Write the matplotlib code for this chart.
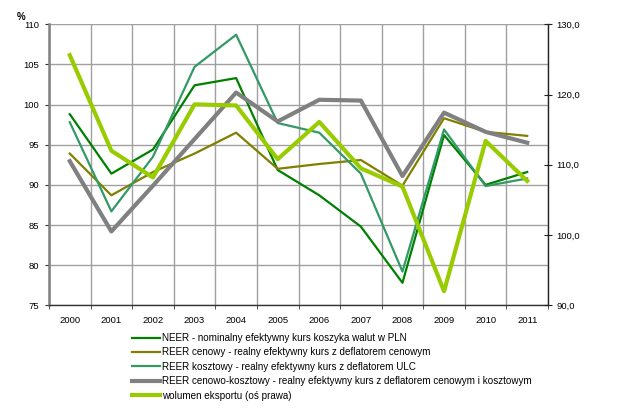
import matplotlib
matplotlib.use("Agg")
import matplotlib.pyplot as plt
import numpy as np
from matplotlib.ticker import FuncFormatter, FixedLocator

plt.rcParams['font.family'] = ['Liberation Sans', 'DejaVu Sans']

years = ['2000', '2001', '2002', '2003', '2004', '2005', '2006', '2007', '2008', '2009', '2010', '2011']
neer = [98.8, 91.4, 94.4, 102.4, 103.3, 91.85, 88.7, 84.8, 77.8, 96.2, 90.0, 91.6]
reer_cenowy = [93.9, 88.7, 91.6, 93.9, 96.5, 92.0, 92.6, 93.1, 89.9, 98.3, 96.6, 96.1]
reer_kosztowy = [97.8, 86.7, 93.5, 104.7, 108.7, 97.7, 96.5, 91.4, 79.2, 96.9, 89.85, 90.8]
reer_ck = [92.95, 84.2, 89.9, 95.7, 101.5, 97.9, 100.6, 100.5, 91.1, 99.0, 96.6, 95.25]
wolumen = [125.6, 112.0, 108.2, 118.6, 118.45, 110.8, 116.1, 109.5, 106.9, 92.0, 113.4, 107.7]

labels = ['NEER - nominalny efektywny kurs koszyka walut w PLN',
          'REER cenowy - realny efektywny kurs z deflatorem cenowym',
          'REER kosztowy - realny efektywny kurs z deflatorem ULC',
          'REER cenowo-kosztowy - realny efektywny kurs z deflatorem cenowym i kosztowym',
          'wolumen eksportu (oś prawa)']

fig = plt.figure(figsize=(6.2, 4.08), dpi=100)
ax = fig.add_axes([49/620, 1-305.3/408, (548-49)/620, (305.3-24.3)/408])
x = np.arange(len(years))

h1, = ax.plot(x, neer, color='#008000', lw=1.6, label=labels[0])
h2, = ax.plot(x, reer_cenowy, color='#808000', lw=1.6, label=labels[1])
h3, = ax.plot(x, reer_kosztowy, color='#339966', lw=1.6, label=labels[2])
h4, = ax.plot(x, reer_ck, color='#808080', lw=3.0, label=labels[3])

ax.set_xlim(-0.5, len(years)-0.5)
ax.set_ylim(75, 110)
ax.set_yticks(np.arange(75, 111, 5))
ax.set_xticks(x)
ax.set_xticklabels(years)
ax.xaxis.set_minor_locator(FixedLocator(np.arange(-0.5, len(years), 1.0)))
ax.tick_params(axis='x', which='major', length=0, pad=8, labelsize=6.8)
ax.tick_params(axis='x', which='minor', length=3, color='#333333')
ax.tick_params(axis='y', length=3, pad=4, labelsize=6.8, color='#333333')
ax.grid(True, axis='y', color='#a0a0a0', lw=1.0)
ax.grid(True, axis='x', which='minor', color='#a0a0a0', lw=1.0)
ax.grid(False, axis='x', which='major')
ax.set_axisbelow(True)
for s in ['top', 'right']:
    ax.spines[s].set_visible(False)
ax.spines['left'].set_color('#808080')
ax.spines['left'].set_linewidth(1.8)
ax.spines['bottom'].set_color('#333333')
ax.spines['bottom'].set_linewidth(1.0)

ax2 = ax.twinx()
h5, = ax2.plot(x, wolumen, color='#99cc00', lw=3.0, label=labels[4])
ax2.set_ylim(90, 130)
ax2.set_yticks(np.arange(90, 131, 10))
ax2.yaxis.set_major_formatter(FuncFormatter(lambda v, p: f'{v:.1f}'.replace('.', ',')))
ax2.tick_params(axis='y', direction='inout', length=6, pad=3, labelsize=6.8, color='#222222')
for s in ['top', 'left', 'bottom']:
    ax2.spines[s].set_visible(False)
ax2.spines['right'].set_color('#222222')
ax2.spines['right'].set_linewidth(1.0)

fig.text(17/620, 1-17/408, '%', fontsize=7, fontweight='bold', ha='left', va='center')

fig.legend(handles=[h1, h2, h3, h4, h5], loc='upper left',
           bbox_to_anchor=(132/620, 1-333/408), frameon=False, fontsize=7.1,
           handlelength=2.8, handletextpad=0.25, labelspacing=0.45,
           borderaxespad=0, borderpad=0)

fig.savefig('out.png', dpi=100)
